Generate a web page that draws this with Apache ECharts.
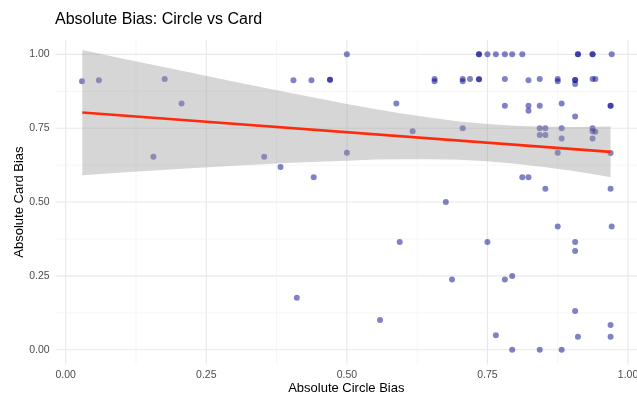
<!DOCTYPE html>
<html>
<head>
<meta charset="utf-8">
<script src="https://cdn.jsdelivr.net/npm/echarts@6/dist/echarts.min.js"></script>
<style>html,body{margin:0;padding:0;background:#fff;}#c{width:637px;height:396px;}</style>
</head>
<body>
<div id="c"></div>
<script>
// ---- data ----
const circleBias = [0.029,0.059,0.176,0.206,0.156,0.353,0.382,0.411,0.405,0.437,0.441,0.470,0.470,0.500,0.500,0.559,0.588,0.594,0.617,0.656,0.656,0.676,0.687,0.706,0.706,0.706,0.719,0.735,0.735,0.735,0.735,0.750,0.750,0.765,0.765,0.781,0.781,0.781,0.781,0.794,0.794,0.794,0.812,0.812,0.823,0.823,0.823,0.823,0.843,0.843,0.843,0.843,0.843,0.853,0.853,0.853,0.875,0.875,0.875,0.875,0.882,0.882,0.882,0.882,0.906,0.906,0.906,0.906,0.906,0.906,0.906,0.911,0.911,0.911,0.937,0.937,0.937,0.942,0.937,0.937,0.942,0.937,0.971,0.969,0.969,0.969,0.969,0.971,0.969,0.969];
const cardBias   = [0.909,0.912,0.917,0.834,0.653,0.653,0.619,0.176,0.912,0.912,0.584,0.914,0.914,1.000,0.667,0.101,0.834,0.365,0.740,0.917,0.909,0.500,0.238,0.917,0.909,0.750,0.917,0.916,0.916,1.000,1.000,1.000,0.365,1.000,0.049,1.000,0.917,0.826,0.238,1.000,0.250,0.000,1.000,0.584,0.912,0.826,0.809,0.584,0.917,0.826,0.750,0.727,0.000,0.750,0.727,0.545,0.917,0.909,0.667,0.417,0.834,0.750,0.715,0.000,0.913,0.913,0.900,0.790,0.365,0.334,0.131,1.000,1.000,0.044,1.000,1.000,0.917,0.917,0.750,0.740,0.738,0.715,1.000,0.826,0.826,0.666,0.545,0.417,0.084,0.044];

// linear fit line (endpoints)
const fitX = [0.0295, 0.969];
const fitY = [0.803, 0.670];

// confidence band
const bandX     = [0.0295,0.1,0.2,0.3,0.4,0.5,0.55,0.6,0.65,0.7,0.75,0.8,0.85,0.9,0.95,0.969];
const bandUpper = [1.015,0.986,0.947,0.907,0.869,0.832,0.815,0.799,0.785,0.773,0.764,0.758,0.755,0.754,0.755,0.756];
const bandLower = [0.591,0.600,0.612,0.623,0.633,0.640,0.644,0.645,0.645,0.643,0.638,0.630,0.619,0.606,0.591,0.584];

// ticks
const majorTicks = [0, 0.25, 0.5, 0.75, 1];
const minorTicks = [0.125, 0.375, 0.625, 0.875];

const FONT = "'Liberation Sans', Arial, sans-serif";

const gridData = [];
majorTicks.forEach(v => { gridData.push([v, 0, 1]); gridData.push([v, 1, 1]); });
minorTicks.forEach(v => { gridData.push([v, 0, 0]); gridData.push([v, 1, 0]); });

const chart = echarts.init(document.getElementById('c'), null, {renderer: 'canvas'});
chart.setOption({
  backgroundColor: '#ffffff',
  animation: false,
  title: {
    text: 'Absolute Bias: Circle vs Card',
    left: 55, top: 12, padding: 0,
    textStyle: {fontFamily: FONT, fontSize: 16, fontWeight: 'normal', color: '#000'}
  },
  grid: {left: 55.6, right: 0, top: 39.6, bottom: 31.5, containLabel: false, outerBoundsMode: 'none'},
  xAxis: {
    type: 'value', min: -0.018, max: 1.016,
    name: 'Absolute Circle Bias', nameLocation: 'middle', nameGap: 17, nameMoveOverlap: false,
    nameTextStyle: {fontFamily: FONT, fontSize: 13, color: '#000'},
    axisLine: {show: false}, axisTick: {show: false}, splitLine: {show: false},
    axisLabel: {customValues: majorTicks, formatter: v => v.toFixed(2), fontFamily: FONT, fontSize: 10.5, color: '#4d4d4d', margin: 5}
  },
  yAxis: {
    type: 'value', min: -0.05, max: 1.05,
    name: 'Absolute Card Bias', nameLocation: 'middle', nameGap: 30, nameMoveOverlap: false,
    nameTextStyle: {fontFamily: FONT, fontSize: 13, color: '#000'},
    axisLine: {show: false}, axisTick: {show: false}, splitLine: {show: false},
    axisLabel: {customValues: majorTicks, formatter: v => v.toFixed(2), fontFamily: FONT, fontSize: 10.5, color: '#4d4d4d', margin: 6}
  },
  series: [
    {
      type: 'custom', silent: true, z: 0,
      data: gridData,
      encode: {x: 0},
      renderItem: function (params, api) {
        const v = api.value(0), dir = api.value(1), major = api.value(2);
        const cs = params.coordSys;
        const style = {stroke: major ? '#e8e8e8' : '#f0f0f0', lineWidth: major ? 1.1 : 0.7};
        if (dir === 0) {
          const p = api.coord([v, 0]);
          return {type: 'line', shape: {x1: p[0], y1: cs.y, x2: p[0], y2: cs.y + cs.height}, style: style};
        } else {
          const p = api.coord([0, v]);
          return {type: 'line', shape: {x1: cs.x, y1: p[1], x2: cs.x + cs.width, y2: p[1]}, style: style};
        }
      }
    },
    {
      type: 'scatter', z: 2, symbolSize: 6,
      itemStyle: {color: 'rgba(0,0,139,0.62)'},
      data: circleBias.map((x, i) => [x, cardBias[i]])
    },
    {
      type: 'custom', silent: true, z: 3,
      data: [[0.5, 0.5]],
      renderItem: function (params, api) {
        const pts = [];
        for (let i = 0; i < bandX.length; i++) pts.push(api.coord([bandX[i], bandUpper[i]]));
        for (let i = bandX.length - 1; i >= 0; i--) pts.push(api.coord([bandX[i], bandLower[i]]));
        return {type: 'polygon', shape: {points: pts}, style: {fill: 'rgba(153,153,153,0.4)', stroke: null}};
      }
    },
    {
      type: 'line', z: 4, symbol: 'none', silent: true,
      lineStyle: {color: '#ff2a0a', width: 2.6},
      data: fitX.map((x, i) => [x, fitY[i]])
    }
  ]
});
</script>
</body>
</html>
